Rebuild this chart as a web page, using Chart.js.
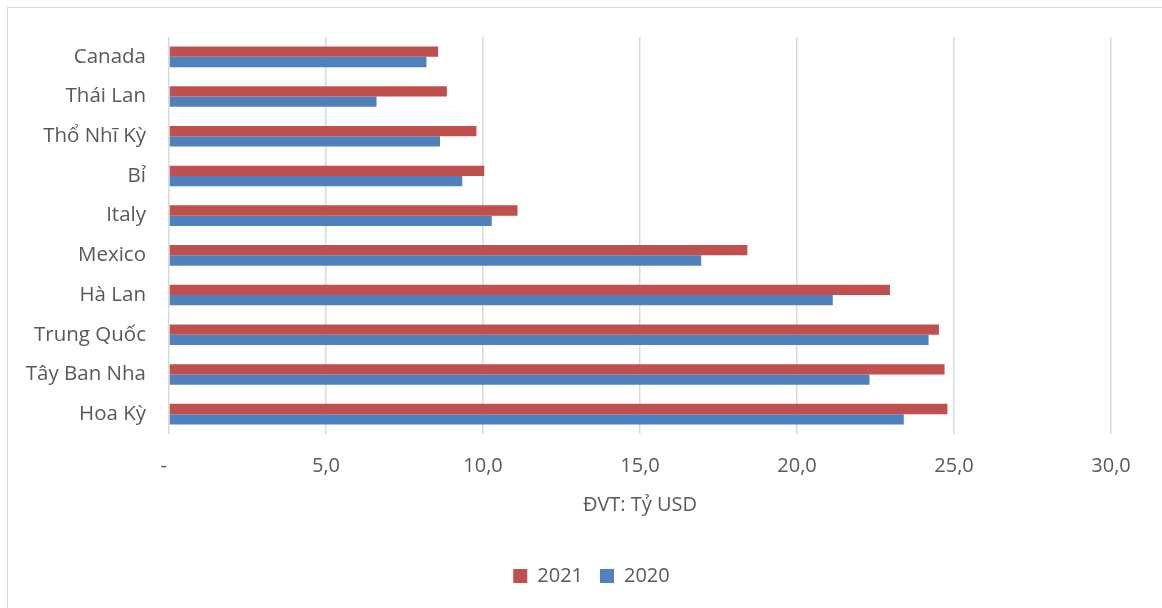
<!DOCTYPE html>
<html>
<head>
<meta charset="utf-8">
<script src="https://cdn.jsdelivr.net/npm/chart.js@4/dist/chart.umd.min.js"></script>
<style>
  html, body { margin: 0; padding: 0; background: #fff; overflow: hidden; }
  #frame {
    position: absolute; left: 7px; top: 7px; width: 1200px; height: 700px;
    border-top: 1px solid #d9d9d9; border-left: 1px solid #d9d9d9;
  }
  #c { position: absolute; left: 0; top: 0; }
</style>
</head>
<body>
<div id="frame"></div>
<canvas id="c" width="1162" height="608"></canvas>
<script>
// Export value by market, billion USD
const countries = ['Canada', 'Thái Lan', 'Thổ Nhĩ Kỳ', 'Bỉ', 'Italy', 'Mexico', 'Hà Lan', 'Trung Quốc', 'Tây Ban Nha', 'Hoa Kỳ'];
const values2021 = [8.57, 8.85, 9.79, 10.04, 11.10, 18.42, 22.96, 24.52, 24.70, 24.79];
const values2020 = [8.20, 6.61, 8.63, 9.34, 10.28, 16.95, 21.14, 24.19, 22.31, 23.40];
const xTickLabels = ['-  ', '5,0', '10,0', '15,0', '20,0', '25,0', '30,0'];
const axisTitle = 'ĐVT: Tỷ USD';

const FONT = "'Open Sans', 'Noto Sans', sans-serif";
const TEXT = '#595959';
const GRID = '#d9d9d9';

// Centre the legend under the whole frame rather than the padded chart box
const legendShift = {
  id: 'legendShift',
  afterLayout(chart) {
    const lg = chart.legend;
    if (lg) { lg.left += 36; lg.right += 36; }
  }
};

new Chart(document.getElementById('c'), {
  type: 'bar',
  data: {
    labels: countries,
    datasets: [
      { label: '2021', data: values2021, backgroundColor: '#C0504D' },
      { label: '2020', data: values2020, backgroundColor: '#4F81BD' }
    ]
  },
  plugins: [legendShift],
  options: {
    indexAxis: 'y',
    responsive: false,
    animation: false,
    events: [],
    datasets: { bar: { categoryPercentage: 0.52, barPercentage: 1.0 } },
    layout: { padding: { top: 37, right: 51, left: 0, bottom: 12 } },
    scales: {
      x: {
        min: 0, max: 30,
        afterFit: (s) => { s.height = 115; },
        ticks: {
          stepSize: 5,
          padding: 20,
          color: TEXT,
          font: { family: FONT, size: 20 },
          callback: (v) => xTickLabels[Math.round(v / 5)]
        },
        grid: { color: GRID, lineWidth: 1.5, drawTicks: false },
        border: { display: false },
        title: {
          display: true, text: axisTitle, color: TEXT,
          font: { family: FONT, size: 20 },
          padding: { top: 0, bottom: 32 }
        }
      },
      y: {
        afterFit: (s) => { s.width = 169; },
        ticks: {
          padding: 15,
          color: TEXT,
          font: { family: FONT, size: 20.5 }
        },
        grid: { display: false },
        border: { display: false }
      }
    },
    plugins: {
      legend: {
        position: 'bottom',
        labels: {
          boxWidth: 14, boxHeight: 14, padding: 17,
          color: TEXT,
          font: { family: FONT, size: 20 }
        }
      },
      tooltip: { enabled: false }
    }
  }
});
</script>
</body>
</html>
